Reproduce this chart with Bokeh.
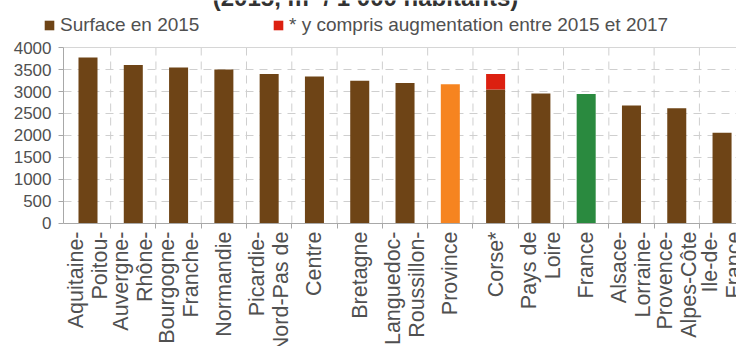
import math
from bokeh.plotting import figure
from bokeh.models import (Range1d, FixedTicker, Legend, LegendItem, Label, LabelSet,
                          ColumnDataSource)
from bokeh.core.properties import value
from bokeh.embed import file_html
from bokeh.resources import INLINE

# ---- data ----
categories = ["Aquitaine-\nPoitou-", "Auvergne-\nRhône-", "Bourgogne-\nFranche-",
              "Normandie", "Picardie-\nNord-Pas de", "Centre", "Bretagne",
              "Languedoc-\nRoussillon-", "Province", "Corse*", "Pays de\nLoire",
              "France", "Alsace-\nLorraine-", "Provence-\nAlpes-Côte", "Ile-de-\nFrance"]
surface_2015 = [3770, 3600, 3545, 3500, 3395, 3340, 3245, 3195, 3165, 3045,
                2955, 2945, 2680, 2620, 2060]
augmentation_2015_2017 = [0, 0, 0, 0, 0, 0, 0, 0, 0, 355, 0, 0, 0, 0, 0]
y_ticks = [0, 500, 1000, 1500, 2000, 2500, 3000, 3500, 4000]
title_text = "(2015, m² / 1 000 habitants)"
legend_labels = ["Surface en 2015", "* y compris augmentation entre 2015 et 2017"]

BROWN = "#6e4416"
ORANGE = "#f68420"
GREEN = "#2a8a3f"
RED = "#dc2010"
GRID = "#cfcfcf"
AXIS = "#a8a8a8"
FONT = "Liberation Sans"
TXT = "#505050"
LINE_GAP = 24  # px between the lines of a category name

W, H = 736, 346
n = len(categories)
idx = list(range(n))
colors = [ORANGE if c == "Province" else GREEN if c == "France" else BROWN for c in categories]

# ranges: the frame covers the whole canvas; axes are pinned inside it
X0, X1 = -1.932, 14.319
Y0, Y1 = -2795.5, 5068.2
y_axis_x = -0.541

src = ColumnDataSource(dict(x=idx, top=surface_2015, color=colors))
aug_idx = [i for i, a in enumerate(augmentation_2015_2017) if a > 0]
src_aug = ColumnDataSource(dict(
    x=aug_idx,
    bottom=[surface_2015[i] for i in aug_idx],
    top=[surface_2015[i] + augmentation_2015_2017[i] for i in aug_idx]))

# one row per line of each category name, each line ending at the axis
lx, ldx, ltxt = [], [], []
for i, c in enumerate(categories):
    lines = c.split("\n")
    k = len(lines)
    for j, ln in enumerate(lines):
        lx.append(i)
        ldx.append((j - (k - 1) / 2) * LINE_GAP)
        ltxt.append(ln)
src_lab = ColumnDataSource(dict(x=lx, dx=ldx, text=ltxt, y=[0] * len(lx)))

p = figure(width=W, height=H, x_range=Range1d(X0, X1), y_range=Range1d(Y0, Y1),
           output_backend="svg", toolbar_location=None, title=None,
           min_border=0, min_border_left=0, min_border_right=0,
           min_border_top=0, min_border_bottom=0)
p.outline_line_color = None
p.background_fill_color = "white"
p.border_fill_color = "white"
p.xgrid.visible = False
p.ygrid.visible = False

# grid lines (bounded to the chart area)
boundaries = [i + 0.5 for i in range(n)]
hy = y_ticks[1:-1]
p.segment(x0=[y_axis_x] * len(hy), x1=[X1] * len(hy), y0=hy, y1=hy,
          line_color=GRID, line_width=1, line_dash="8 6")
p.segment(x0=boundaries, x1=boundaries, y0=[y_ticks[-1]] * n, y1=[y_ticks[0]] * n,
          line_color=GRID, line_width=1, line_dash="8 6")
p.segment(x0=[y_axis_x], x1=[X1], y0=[y_ticks[-1]], y1=[y_ticks[-1]],
          line_color="#d6d6d6", line_width=1)

r_main = p.vbar(x="x", top="top", bottom=0, width=0.42, source=src,
                fill_color="color", line_color=None)
r_aug = p.vbar(x="x", top="top", bottom="bottom", width=0.42, source=src_aug,
               fill_color=RED, line_color=None)

# y axis
ya = p.yaxis[0]
ya.fixed_location = y_axis_x
ya.bounds = (y_ticks[0], y_ticks[-1])
ya.ticker = FixedTicker(ticks=y_ticks)
ya.axis_line_color = AXIS
ya.major_tick_line_color = AXIS
ya.major_tick_out = 5
ya.major_tick_in = 0
ya.minor_tick_line_color = None
ya.major_label_standoff = 7
ya.major_label_text_font = FONT
ya.major_label_text_font_size = "17px"
ya.major_label_text_color = TXT

# x axis (ticks between categories; category names drawn below)
xa = p.xaxis[0]
xa.fixed_location = 0
xa.bounds = (y_axis_x, X1)
xa.ticker = FixedTicker(ticks=[], minor_ticks=boundaries)
xa.axis_line_color = AXIS
xa.major_tick_line_color = None
xa.minor_tick_line_color = AXIS
xa.minor_tick_out = 5
xa.minor_tick_in = 0
xa.major_label_text_font_size = "0px"

p.add_layout(LabelSet(x="x", y="y", text="text", source=src_lab, x_offset="dx",
                      y_offset=-8, angle=math.pi / 2, text_align="right",
                      text_baseline="middle", text_font=value(FONT),
                      text_font_size="21.5px", text_color=TXT))

# legends
def mk_legend(label, renderer, loc):
    lg = Legend(items=[LegendItem(label=label, renderers=[renderer], index=0)],
                location=loc, orientation="horizontal", padding=0, margin=0, spacing=0,
                border_line_color=None, background_fill_alpha=0,
                glyph_width=12, glyph_height=12, label_height=12,
                label_standoff=5, label_text_font=FONT,
                label_text_font_size="19px", label_text_color=TXT)
    p.add_layout(lg)

mk_legend(legend_labels[0], r_main, (43, 310))
mk_legend(legend_labels[1], r_aug, (272, 310))

p.add_layout(Label(x=365, y=H + 3, x_units="screen", y_units="screen", text=title_text,
                   text_align="center", text_baseline="alphabetic", text_font=FONT,
                   text_font_style="bold", text_font_size="24px", text_color="#333333"))

open("out.html", "w").write(file_html(p, INLINE))
